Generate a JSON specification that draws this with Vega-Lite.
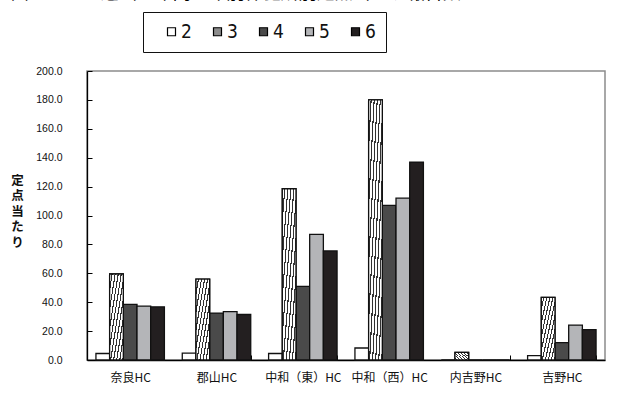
{
  "$schema": "https://vega.github.io/schema/vega-lite/v6.json",
  "width": 518,
  "height": 289,
  "autosize": {"type": "none"},
  "padding": {"left": 87, "top": 71, "right": 25, "bottom": 45},
  "background": "white",
  "title": {
    "text": "図３－３　過去５年間の年別保健所別定点当たり報告数",
    "anchor": "start",
    "frame": "bounds",
    "font": "Noto Sans CJK JP",
    "fontSize": 18,
    "fontWeight": "normal",
    "color": "#000",
    "baseline": "alphabetic",
    "offset": 0,
    "dy": 5
  },
  "data": {
    "values": [
      {"hc": "奈良HC", "year": "2", "v": 4.5},
      {"hc": "奈良HC", "year": "3", "v": 59.5},
      {"hc": "奈良HC", "year": "4", "v": 38.5},
      {"hc": "奈良HC", "year": "5", "v": 37.3},
      {"hc": "奈良HC", "year": "6", "v": 36.8},
      {"hc": "郡山HC", "year": "2", "v": 4.8},
      {"hc": "郡山HC", "year": "3", "v": 56},
      {"hc": "郡山HC", "year": "4", "v": 32.5},
      {"hc": "郡山HC", "year": "5", "v": 33.5},
      {"hc": "郡山HC", "year": "6", "v": 31.5},
      {"hc": "中和（東）HC", "year": "2", "v": 4.5},
      {"hc": "中和（東）HC", "year": "3", "v": 118.5},
      {"hc": "中和（東）HC", "year": "4", "v": 51},
      {"hc": "中和（東）HC", "year": "5", "v": 87},
      {"hc": "中和（東）HC", "year": "6", "v": 75.5},
      {"hc": "中和（西）HC", "year": "2", "v": 8.3},
      {"hc": "中和（西）HC", "year": "3", "v": 180},
      {"hc": "中和（西）HC", "year": "4", "v": 107},
      {"hc": "中和（西）HC", "year": "5", "v": 112},
      {"hc": "中和（西）HC", "year": "6", "v": 137},
      {"hc": "内吉野HC", "year": "2", "v": 0},
      {"hc": "内吉野HC", "year": "3", "v": 5.3},
      {"hc": "内吉野HC", "year": "4", "v": 0},
      {"hc": "内吉野HC", "year": "5", "v": 0},
      {"hc": "内吉野HC", "year": "6", "v": 0},
      {"hc": "吉野HC", "year": "2", "v": 3},
      {"hc": "吉野HC", "year": "3", "v": 43.3},
      {"hc": "吉野HC", "year": "4", "v": 12},
      {"hc": "吉野HC", "year": "5", "v": 24.2},
      {"hc": "吉野HC", "year": "6", "v": 21}
    ]
  },
  "encoding": {
    "x": {
      "field": "hc",
      "type": "nominal",
      "sort": ["奈良HC", "郡山HC", "中和（東）HC", "中和（西）HC", "内吉野HC", "吉野HC"],
      "scale": {"paddingInner": 0.207, "paddingOuter": 0.1035},
      "axis": {
        "title": null,
        "labelAngle": 0,
        "tickBand": "extent",
        "tickSize": -5,
        "labelPadding": 17,
        "labelFont": "Noto Sans CJK JP",
        "labelFontSize": 12,
        "labelColor": "#111",
        "labelBaseline": "top",
        "domainColor": "#000",
        "domainWidth": 1.3,
        "tickColor": "#000",
        "grid": false
      }
    },
    "xOffset": {
      "field": "year",
      "type": "nominal",
      "scale": {"domain": ["2", "3", "4", "5", "6"], "paddingInner": 0, "paddingOuter": 0}
    },
    "y": {
      "field": "v",
      "type": "quantitative",
      "scale": {"domain": [0, 200], "nice": false},
      "axis": {
        "values": [0, 20, 40, 60, 80, 100, 120, 140, 160, 180, 200],
        "format": ".1f",
        "grid": false,
        "tickSize": -5,
        "labelPadding": 30,
        "labelFont": "Liberation Sans",
        "labelFontSize": 10.5,
        "labelColor": "#111",
        "domainColor": "#000",
        "domainWidth": 1.3,
        "tickColor": "#000",
        "title": ["定", "点", "当", "た", "り"],
        "titleAngle": 0,
        "titleFont": "Noto Sans CJK JP",
        "titleFontSize": 12.5,
        "titleFontWeight": "bold",
        "titleColor": "#111",
        "titleLineHeight": 15.5,
        "titleX": -70,
        "titleY": 103,
        "titleAlign": "center",
        "titleBaseline": "top"
      }
    }
  },
  "layer": [
    {
      "mark": {"type": "bar", "stroke": "#111", "strokeWidth": 1.3},
      "encoding": {
        "fill": {
          "field": "year",
          "type": "nominal",
          "scale": {
            "domain": ["2", "3", "4", "5", "6"],
            "range": ["#ffffff", "#8c8c8c", "#4a4a4a", "#b4b5b8", "#231f20"]
          },
          "legend": {
            "orient": "none",
            "legendX": 56,
            "legendY": -59,
            "direction": "horizontal",
            "title": "　",
            "titleOrient": "left",
            "titleFontSize": 11,
            "titlePadding": 9,
            "symbolType": "square",
            "symbolSize": 64,
            "symbolStrokeColor": "#000",
            "symbolStrokeWidth": 1.2,
            "labelOffset": 0,
            "labelFont": "Liberation Sans Narrow, DejaVu Sans Condensed, Liberation Sans, sans-serif",
            "labelFontSize": 19,
            "labelColor": "#111",
            "columnPadding": 16,
            "padding": 10,
            "strokeColor": "#111",
            "fillColor": "#ffffff"
          }
        }
      }
    },
    {
      "transform": [{"filter": "datum.year === '3'"}],
      "mark": {
        "type": "bar",
        "stroke": "#111",
        "strokeWidth": 1.3,
        "fill": {
          "gradient": "linear",
          "x1": 0, "y1": 0, "x2": 1, "y2": 1,
          "stops": [
            {"offset": 0, "color": "#ffffff"}, {"offset": 0.071, "color": "#ffffff"}, {"offset": 0.071, "color": "#333333"}, {"offset": 0.111, "color": "#333333"},
            {"offset": 0.111, "color": "#ffffff"}, {"offset": 0.182, "color": "#ffffff"}, {"offset": 0.182, "color": "#333333"}, {"offset": 0.222, "color": "#333333"},
            {"offset": 0.222, "color": "#ffffff"}, {"offset": 0.293, "color": "#ffffff"}, {"offset": 0.293, "color": "#333333"}, {"offset": 0.333, "color": "#333333"},
            {"offset": 0.333, "color": "#ffffff"}, {"offset": 0.404, "color": "#ffffff"}, {"offset": 0.404, "color": "#333333"}, {"offset": 0.444, "color": "#333333"},
            {"offset": 0.444, "color": "#ffffff"}, {"offset": 0.515, "color": "#ffffff"}, {"offset": 0.515, "color": "#333333"}, {"offset": 0.556, "color": "#333333"},
            {"offset": 0.556, "color": "#ffffff"}, {"offset": 0.626, "color": "#ffffff"}, {"offset": 0.626, "color": "#333333"}, {"offset": 0.667, "color": "#333333"},
            {"offset": 0.667, "color": "#ffffff"}, {"offset": 0.737, "color": "#ffffff"}, {"offset": 0.737, "color": "#333333"}, {"offset": 0.778, "color": "#333333"},
            {"offset": 0.778, "color": "#ffffff"}, {"offset": 0.848, "color": "#ffffff"}, {"offset": 0.848, "color": "#333333"}, {"offset": 0.889, "color": "#333333"},
            {"offset": 0.889, "color": "#ffffff"}, {"offset": 0.959, "color": "#ffffff"}, {"offset": 0.959, "color": "#333333"}, {"offset": 1, "color": "#333333"}
          ]
        }
      }
    }
  ],
  "config": {
    "view": {"stroke": "#8c8c8c", "strokeWidth": 1.5}
  }
}
